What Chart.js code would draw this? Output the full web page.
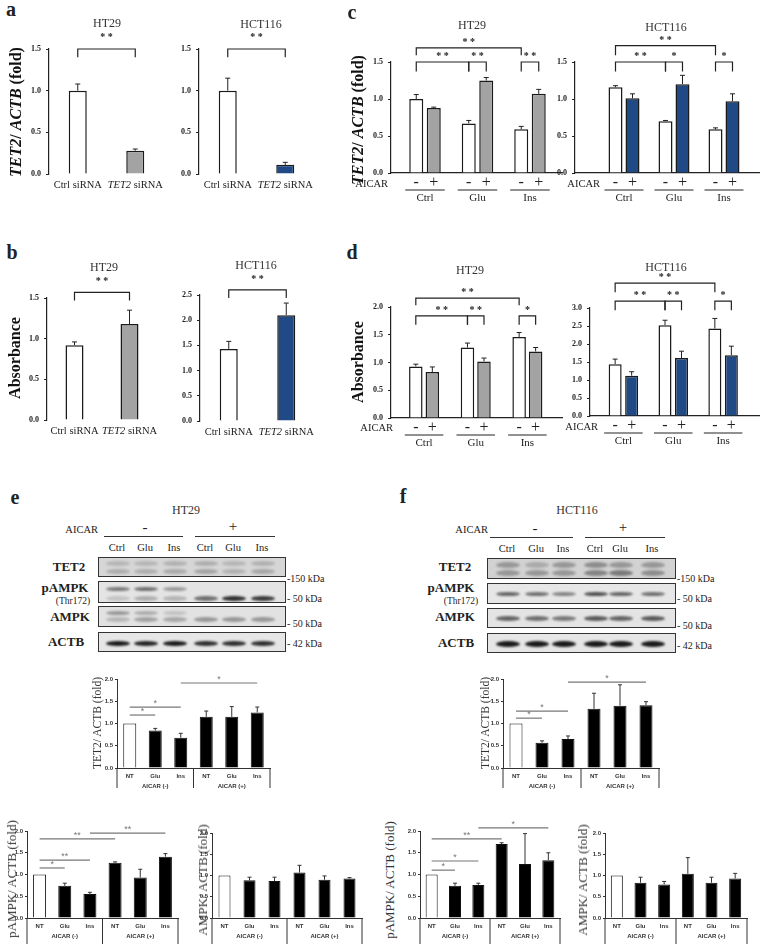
<!DOCTYPE html>
<html>
<head>
<meta charset="utf-8">
<title>TET2 / AICAR figure</title>
<script src="https://cdn.jsdelivr.net/npm/chart.js"></script>
<style>
  body { margin: 0; background: #fff; }
  #fig { position: relative; width: 760px; height: 944px; overflow: hidden; color: #222;
         font-family: "Liberation Serif", "Times New Roman", serif; }
  .t { position: absolute; white-space: nowrap; line-height: 1; transform: translate(-50%, -50%); }
  .rot { transform: translate(-50%, -50%) rotate(-90deg); }
  .blot { position: absolute; border: 1px solid #333; overflow: hidden; box-sizing: border-box; }
  .band { position: absolute; border-radius: 50%; filter: blur(1.2px); }
</style>
</head>
<body>
<div id="fig"></div>
<script>
// ---- values ----
const sirnaLabels = ['Ctrl siRNA', 'TET2 siRNA'];
const treatLabels = ['Ctrl', 'Glu', 'Ins'];
const aicarSigns = ['-', '+'];
const laneLabels = ['NT', 'Glu', 'Ins', 'NT', 'Glu', 'Ins'];
const aicarGroups = ['AICAR (-)', 'AICAR (+)'];

// a: TET2/ACTB mRNA after siRNA
const aHT29 = [1.00, 0.28], aHT29Err = [0.08, 0.02];
const aHCT116 = [1.00, 0.11], aHCT116Err = [0.15, 0.03];
// b: absorbance after siRNA
const bHT29 = [0.92, 1.18], bHT29Err = [0.04, 0.17];
const bHCT116 = [1.43, 2.10], bHCT116Err = [0.15, 0.24];
// c: TET2/ACTB mRNA, AICAR - / +
const cHT29Minus = [1.00, 0.67, 0.59], cHT29MinusErr = [0.06, 0.04, 0.04];
const cHT29Plus = [0.88, 1.25, 1.07], cHT29PlusErr = [0.01, 0.04, 0.06];
const cHCT116Minus = [1.16, 0.70, 0.59], cHCT116MinusErr = [0.02, 0.01, 0.02];
const cHCT116Plus = [1.01, 1.20, 0.97], cHCT116PlusErr = [0.06, 0.12, 0.10];
// d: absorbance, AICAR - / +
const dHT29Minus = [0.93, 1.27, 1.46], dHT29MinusErr = [0.04, 0.08, 0.08];
const dHT29Plus = [0.83, 1.02, 1.20], dHT29PlusErr = [0.09, 0.06, 0.07];
const dHCT116Minus = [1.44, 2.52, 2.43], dHCT116MinusErr = [0.14, 0.14, 0.28];
const dHCT116Plus = [1.12, 1.61, 1.69], dHCT116PlusErr = [0.11, 0.19, 0.25];
// e / f: blot densitometry
const eTET2 = [1.00, 0.84, 0.68, 1.15, 1.15, 1.25], eTET2Err = [0, 0.05, 0.10, 0.13, 0.23, 0.12];
const fTET2 = [1.00, 0.57, 0.65, 1.33, 1.40, 1.41], fTET2Err = [0, 0.04, 0.07, 0.35, 0.47, 0.08];
const ePAMPK = [1.00, 0.74, 0.55, 1.27, 0.93, 1.41], ePAMPKErr = [0, 0.06, 0.04, 0.02, 0.19, 0.07];
const fPAMPK = [1.00, 0.74, 0.76, 1.70, 1.24, 1.33], fPAMPKErr = [0, 0.06, 0.04, 0.03, 0.70, 0.17];
const eAMPK = [1.00, 0.89, 0.87, 1.07, 0.90, 0.93], eAMPKErr = [0, 0.07, 0.09, 0.17, 0.09, 0.02];
const fAMPK = [1.00, 0.83, 0.79, 1.04, 0.83, 0.93], fAMPKErr = [0, 0.13, 0.07, 0.38, 0.13, 0.12];

// significance brackets: [dataset, bar] -> [dataset, bar] at value y
const aBr = [{ a: [0, 0], b: [0, 1], y: 1.5, drop: 0.1, text: '* *' }];
const bHT29Br = [{ a: [0, 0], b: [0, 1], y: 1.57, drop: 0.1, text: '* *' }];
const bHCT116Br = [{ a: [0, 0], b: [0, 1], y: 2.6, drop: 0.16, text: '* *' }];
const cHT29Br = [
  { a: [0, 0], b: [0, 2], y: 1.69, drop: 0.1, text: '* *' },
  { a: [0, 0], b: [0, 1], y: 1.5, drop: 0.13, text: '* *' },
  { a: [0, 1], b: [1, 1], y: 1.5, drop: 0.13, text: '* *' },
  { a: [0, 2], b: [1, 2], y: 1.5, drop: 0.13, text: '* *' }];
const cHCT116Br = [
  { a: [0, 0], b: [0, 2], y: 1.72, drop: 0.13, text: '* *' },
  { a: [0, 0], b: [0, 1], y: 1.5, drop: 0.13, text: '* *' },
  { a: [0, 1], b: [1, 1], y: 1.5, drop: 0.13, text: '*' },
  { a: [0, 2], b: [1, 2], y: 1.5, drop: 0.13, text: '*' }];
const dHT29Br = [
  { a: [0, 0], b: [0, 2], y: 2.16, drop: 0.13, text: '* *' },
  { a: [0, 0], b: [0, 1], y: 1.84, drop: 0.16, text: '* *' },
  { a: [0, 1], b: [1, 1], y: 1.84, drop: 0.16, text: '* *' },
  { a: [0, 2], b: [1, 2], y: 1.84, drop: 0.16, text: '*' }];
const dHCT116Br = [
  { a: [0, 0], b: [0, 2], y: 3.69, drop: 0.25, text: '* *' },
  { a: [0, 0], b: [0, 1], y: 3.19, drop: 0.25, text: '* *' },
  { a: [0, 1], b: [1, 1], y: 3.19, drop: 0.25, text: '* *' },
  { a: [0, 2], b: [1, 2], y: 3.19, drop: 0.25, text: '*' }];
const eTET2Sig = [{ a: [0, 0], b: [0, 1], y: 1.19, text: '*' }, { a: [0, 0], b: [0, 2], y: 1.37, text: '*' }, { a: [0, 2], b: [0, 5], y: 1.91, text: '*' }];
const fTET2Sig = [{ a: [0, 0], b: [0, 1], y: 1.12, text: '*' }, { a: [0, 0], b: [0, 2], y: 1.28, text: '*' }, { a: [0, 2], b: [0, 5], y: 1.93, text: '*' }];
const ePAMPKSig = [{ a: [0, 0], b: [0, 1], y: 1.15, text: '*' }, { a: [0, 0], b: [0, 2], y: 1.33, text: '**' }, { a: [0, 0], b: [0, 3], y: 1.82, text: '**' }, { a: [0, 2], b: [0, 5], y: 1.95, text: '**' }];
const fPAMPKSig = [{ a: [0, 0], b: [0, 1], y: 1.10, text: '*' }, { a: [0, 0], b: [0, 2], y: 1.31, text: '*' }, { a: [0, 0], b: [0, 3], y: 1.82, text: '**' }, { a: [0, 2], b: [0, 5], y: 2.07, text: '*' }];

// blot band intensities per lane
const eBlotBands = [
  { y: 562, h: 5, v: [0.16, 0.16, 0.18, 0.2, 0.16, 0.18] }, { y: 570, h: 5, v: [0.2, 0.2, 0.22, 0.25, 0.18, 0.24] },
  { y: 588, h: 4, v: [0.5, 0.55, 0.35, 0, 0, 0] }, { y: 597, h: 5, v: [0.15, 0.25, 0.22, 0.55, 0.85, 0.8] },
  { y: 612, h: 4, v: [0.35, 0.25, 0.15, 0, 0, 0] }, { y: 618, h: 5, v: [0.2, 0.3, 0.28, 0.35, 0.35, 0.35] },
  { y: 642, h: 5, v: [0.95, 0.9, 0.95, 0.85, 0.85, 0.85] }];
const fBlotBands = [
  { y: 564, h: 6, v: [0.3, 0.2, 0.3, 0.35, 0.3, 0.3] }, { y: 572, h: 6, v: [0.3, 0.3, 0.3, 0.4, 0.45, 0.35] },
  { y: 593, h: 4, v: [0.6, 0.55, 0.45, 0.7, 0.6, 0.55] },
  { y: 617, h: 5, v: [0.6, 0.55, 0.5, 0.65, 0.6, 0.65] },
  { y: 643, h: 6, v: [0.95, 0.95, 0.95, 0.95, 0.95, 0.95] }];

// ---- drawing ----
const SERIF = '"Liberation Serif", "Times New Roman", serif';
const SANS = '"Liberation Sans", Arial, sans-serif';
const GREY = '#a3a3a3', BLUE = '#1f4a86';
const fig = document.getElementById('fig');

function seg(ctx, x1, y1, x2, y2) { ctx.beginPath(); ctx.moveTo(x1, y1); ctx.lineTo(x2, y2); ctx.stroke(); }

function txt(x, y, html, css, cls) {
  const d = document.createElement('div');
  d.className = 't' + (cls ? ' ' + cls : '');
  d.style.cssText = 'left:' + x + 'px;top:' + y + 'px;' + (css || '');
  d.innerHTML = html;
  fig.appendChild(d);
}

function place(area, pad) {
  const c = document.createElement('canvas');
  const w = area.r - area.l + pad.l + pad.r, h = area.b - area.t + pad.t + pad.b;
  c.width = w; c.height = h;
  c.style.cssText = 'position:absolute;left:' + (area.l - pad.l) + 'px;top:' + (area.t - pad.t) + 'px;width:' + w + 'px;height:' + h + 'px';
  fig.appendChild(c);
  return c;
}

// error bars, brackets and per-panel labels
function extras(o) {
  return {
    id: 'extras',
    afterDatasetsDraw(chart) {
      const ctx = chart.ctx, ys = chart.scales.y;
      const px = (ds, i) => chart.getDatasetMeta(ds).data[i].x;
      ctx.save();
      ctx.strokeStyle = o.axis; ctx.lineWidth = 1;
      o.series.forEach((s, ds) => {
        chart.getDatasetMeta(ds).data.forEach((bar, i) => {
          if (!s.errors[i]) return;
          const top = ys.getPixelForValue(s.values[i] + s.errors[i]);
          seg(ctx, bar.x, bar.y, bar.x, top);
          seg(ctx, bar.x - o.cap, top, bar.x + o.cap, top);
        });
      });
      ctx.strokeStyle = o.sigColor; ctx.fillStyle = o.sigColor; ctx.lineWidth = o.sigWidth;
      ctx.font = o.starFont; ctx.textAlign = 'center'; ctx.textBaseline = 'alphabetic';
      (o.brackets || []).forEach(b => {
        const x1 = px(b.a[0], b.a[1]), x2 = px(b.b[0], b.b[1]);
        const y = ys.getPixelForValue(b.y), y0 = ys.getPixelForValue(b.y - (b.drop || 0));
        ctx.beginPath(); ctx.moveTo(x1, y0); ctx.lineTo(x1, y); ctx.lineTo(x2, y); ctx.lineTo(x2, y0); ctx.stroke();
        ctx.fillText(b.text, (x1 + x2) / 2, y - o.starGap);
      });
      if (o.decorate) o.decorate(chart, ctx, o);
      ctx.restore();
    }
  };
}

function baseOptions(o, x) {
  return {
    responsive: false, animation: false, events: [],
    layout: { autoPadding: false, padding: { top: o.pad.t, right: o.pad.r, left: 0, bottom: 0 } },
    plugins: { legend: { display: false }, tooltip: { enabled: false } },
    scales: {
      x: Object.assign({
        grid: { display: false }, ticks: { display: false },
        border: { display: o.baseline, color: o.axis, width: o.aw },
        afterFit: s => { s.height = o.pad.b; }
      }, x),
      y: {
        min: 0, max: o.yMax,
        afterFit: s => { s.width = o.pad.l; },
        ticks: { stepSize: o.step, callback: v => v.toFixed(1), font: o.tickFont, color: o.tickColor, padding: o.tickPad },
        grid: { drawOnChartArea: false, drawTicks: true, tickLength: o.tickLen, color: o.axis, lineWidth: 1 },
        border: { color: o.axis, width: o.aw }
      }
    }
  };
}

function simpleChart(o) {
  const cv = place(o.area, o.pad);
  const catW = (o.area.r - o.area.l) / o.labels.length;
  return new Chart(cv, {
    type: 'bar',
    data: {
      labels: o.labels,
      datasets: [{ data: o.series[0].values, backgroundColor: o.colors, borderColor: o.edge, borderWidth: o.bw,
                   categoryPercentage: 1, barPercentage: o.barW / catW }]
    },
    options: baseOptions(o, { type: 'category' }),
    plugins: [extras(o)]
  });
}

function groupChart(o) {
  const cv = place(o.area, o.pad);
  const unit = (o.area.r - o.area.l) / (o.xMax - o.xMin);
  return new Chart(cv, {
    type: 'bar',
    data: {
      datasets: o.series.map(s => ({
        data: s.values.map((v, i) => ({ x: i, y: v })),
        backgroundColor: s.color, borderColor: o.edge, borderWidth: o.bw,
        categoryPercentage: 2 * o.pitch / unit, barPercentage: o.barW / o.pitch
      }))
    },
    options: baseOptions(o, {
      type: 'linear', min: o.xMin, max: o.xMax, offset: false,
      afterBuildTicks: s => { s.ticks = treatLabels.map((g, i) => ({ value: i })); }
    }),
    plugins: [extras(o)]
  });
}

function siRNARow(chart, ctx) {
  const y = chart.chartArea.bottom + 11;
  ctx.fillStyle = '#222'; ctx.textBaseline = 'middle'; ctx.textAlign = 'left';
  chart.getDatasetMeta(0).data.forEach((bar, i) => {
    const words = sirnaLabels[i].split(' ');
    const parts = [[words[0], (words[0] === 'TET2' ? 'italic ' : '') + '10.5px ' + SERIF], [' ' + words.slice(1).join(' '), '10.5px ' + SERIF]];
    let w = 0;
    parts.forEach(p => { ctx.font = p[1]; w += ctx.measureText(p[0]).width; });
    let x = bar.x - w / 2;
    parts.forEach(p => { ctx.font = p[1]; ctx.fillText(p[0], x, y); x += ctx.measureText(p[0]).width; });
  });
}

function aicarRow(chart, ctx) {
  const b = chart.chartArea.bottom;
  ctx.fillStyle = '#222'; ctx.strokeStyle = '#222'; ctx.lineWidth = 1;
  ctx.textAlign = 'center'; ctx.textBaseline = 'middle';
  ctx.font = '16px ' + SERIF;
  chart.data.datasets.forEach((d, ds) => chart.getDatasetMeta(ds).data.forEach(bar => ctx.fillText(aicarSigns[ds], bar.x, b + 10)));
  ctx.font = '11px ' + SERIF;
  treatLabels.forEach((g, i) => {
    const x1 = chart.getDatasetMeta(0).data[i].x - 11, x2 = chart.getDatasetMeta(1).data[i].x + 11;
    seg(ctx, x1, b + 17, x2, b + 17);
    ctx.fillText(g, (x1 + x2) / 2, b + 25);
  });
}

function laneRow(chart, ctx, o) {
  const ca = chart.chartArea, b = ca.bottom, mid = (ca.left + ca.right) / 2;
  ctx.strokeStyle = o.axis; ctx.lineWidth = 1; ctx.fillStyle = '#333';
  [ca.left, mid, ca.right].forEach(x => seg(ctx, x, b, x, b + o.divLen));
  ctx.font = 'bold 6px ' + SANS; ctx.textAlign = 'center'; ctx.textBaseline = 'middle';
  chart.getDatasetMeta(0).data.forEach((bar, i) => ctx.fillText(laneLabels[i], bar.x, b + 8));
  ctx.fillText(aicarGroups[0], (ca.left + mid) / 2, b + 18);
  ctx.fillText(aicarGroups[1], (mid + ca.right) / 2, b + 18);
}

const topStyle = { axis: '#222', aw: 1.2, tickFont: { family: SERIF, size: 8, weight: 'bold' }, tickColor: '#222',
  tickLen: 3, tickPad: 5, cap: 2.5, bw: 1.5, edge: '#1a1a1a', starFont: 'bold 10px ' + SERIF, sigColor: '#222', sigWidth: 1.2, yMax: 1.5, step: 0.5 };
const blotStyle = { axis: '#333', aw: 1, tickFont: { family: SANS, size: 6, weight: 'bold' }, tickColor: '#333',
  tickLen: 2, tickPad: 2, cap: 2, bw: 1, edge: '#111', starFont: '9px ' + SANS, sigColor: '#777', sigWidth: 1.2, starGap: 1,
  yMax: 2.0, step: 0.5, baseline: true, labels: laneLabels, colors: ['#fff', '#000', '#000', '#000', '#000', '#000'], barW: 12, decorate: laneRow };

// a
simpleChart(Object.assign({}, topStyle, { area: { l: 49, r: 164, t: 49, b: 174 }, pad: { t: 26, r: 14, b: 20, l: 30 },
  labels: sirnaLabels, series: [{ values: aHT29, errors: aHT29Err }], colors: ['#fff', GREY], barW: 18,
  baseline: false, brackets: aBr, starGap: 9, decorate: siRNARow }));
simpleChart(Object.assign({}, topStyle, { area: { l: 199, r: 314, t: 49, b: 174 }, pad: { t: 26, r: 14, b: 20, l: 30 },
  labels: sirnaLabels, series: [{ values: aHCT116, errors: aHCT116Err }], colors: ['#fff', BLUE], barW: 18,
  baseline: false, brackets: aBr, starGap: 9, decorate: siRNARow }));
// b
simpleChart(Object.assign({}, topStyle, { area: { l: 47, r: 157, t: 298, b: 420 }, pad: { t: 26, r: 14, b: 20, l: 30 },
  labels: sirnaLabels, series: [{ values: bHT29, errors: bHT29Err }], colors: ['#fff', GREY], barW: 18,
  baseline: false, brackets: bHT29Br, starGap: 8, decorate: siRNARow }));
simpleChart(Object.assign({}, topStyle, { area: { l: 200, r: 315, t: 295, b: 421 }, pad: { t: 26, r: 14, b: 20, l: 30 },
  labels: sirnaLabels, series: [{ values: bHCT116, errors: bHCT116Err }], colors: ['#fff', BLUE], barW: 18, yMax: 2.5,
  baseline: false, brackets: bHCT116Br, starGap: 8, decorate: siRNARow }));
// c
groupChart(Object.assign({}, topStyle, { area: { l: 391, r: 562, t: 62, b: 173 }, pad: { t: 30, r: 6, b: 32, l: 28 },
  xMin: -0.648, xMax: 2.61, pitch: 17.5, barW: 14, baseline: true, starGap: 3, decorate: aicarRow, brackets: cHT29Br,
  series: [{ values: cHT29Minus, errors: cHT29MinusErr, color: '#fff' }, { values: cHT29Plus, errors: cHT29PlusErr, color: GREY }] }));
groupChart(Object.assign({}, topStyle, { area: { l: 575, r: 760, t: 62, b: 173 }, pad: { t: 30, r: 0, b: 32, l: 28 },
  xMin: -0.98, xMax: 2.72, pitch: 17, barW: 14, baseline: true, starGap: 3, decorate: aicarRow, brackets: cHCT116Br,
  series: [{ values: cHCT116Minus, errors: cHCT116MinusErr, color: '#fff' }, { values: cHCT116Plus, errors: cHCT116PlusErr, color: BLUE }] }));
// d
groupChart(Object.assign({}, topStyle, { area: { l: 391, r: 562, t: 307, b: 418 }, pad: { t: 24, r: 6, b: 32, l: 28 },
  xMin: -0.64, xMax: 2.67, pitch: 16.5, barW: 13.5, yMax: 2.0, baseline: true, starGap: 3, decorate: aicarRow, brackets: dHT29Br,
  series: [{ values: dHT29Minus, errors: dHT29MinusErr, color: '#fff' }, { values: dHT29Plus, errors: dHT29PlusErr, color: GREY }] }));
groupChart(Object.assign({}, topStyle, { area: { l: 590, r: 760, t: 308, b: 416 }, pad: { t: 38, r: 0, b: 32, l: 28 },
  xMin: -0.67, xMax: 2.74, pitch: 16.5, barW: 13, yMax: 3.0, baseline: true, starGap: 3, decorate: aicarRow, brackets: dHCT116Br,
  series: [{ values: dHCT116Minus, errors: dHCT116MinusErr, color: '#fff' }, { values: dHCT116Plus, errors: dHCT116PlusErr, color: BLUE }] }));
// e / f densitometry
simpleChart(Object.assign({}, blotStyle, { area: { l: 117, r: 270, t: 679, b: 768 }, pad: { t: 14, r: 6, b: 22, l: 18 }, divLen: 20,
  series: [{ values: eTET2, errors: eTET2Err }], brackets: eTET2Sig, barW: 13 }));
simpleChart(Object.assign({}, blotStyle, { area: { l: 503, r: 659, t: 679, b: 768 }, pad: { t: 14, r: 6, b: 22, l: 18 }, divLen: 20,
  series: [{ values: fTET2, errors: fTET2Err }], brackets: fTET2Sig, barW: 13 }));
simpleChart(Object.assign({}, blotStyle, { area: { l: 27, r: 178, t: 831, b: 918 }, pad: { t: 14, r: 6, b: 26, l: 18 }, divLen: 26,
  series: [{ values: ePAMPK, errors: ePAMPKErr }], brackets: ePAMPKSig, barW: 13 }));
simpleChart(Object.assign({}, blotStyle, { area: { l: 212, r: 362, t: 833, b: 918 }, pad: { t: 14, r: 6, b: 26, l: 18 }, divLen: 26,
  series: [{ values: eAMPK, errors: eAMPKErr }], barW: 12 }));
simpleChart(Object.assign({}, blotStyle, { area: { l: 420, r: 560, t: 831, b: 918 }, pad: { t: 16, r: 6, b: 26, l: 18 }, divLen: 26,
  series: [{ values: fPAMPK, errors: fPAMPKErr }], brackets: fPAMPKSig, barW: 12 }));
simpleChart(Object.assign({}, blotStyle, { area: { l: 605, r: 747, t: 833, b: 918 }, pad: { t: 14, r: 6, b: 26, l: 18 }, divLen: 26,
  series: [{ values: fAMPK, errors: fAMPKErr }], barW: 12 }));

// ---- western blot images (schematic) ----
function blot(box, lanes, bands, bg) {
  const d = document.createElement('div');
  d.className = 'blot';
  d.style.cssText = 'left:' + box[0] + 'px;top:' + box[1] + 'px;width:' + (box[2] - box[0]) + 'px;height:' + (box[3] - box[1]) + 'px;background:' + bg;
  bands.forEach(b => {
    if (b.y < box[1] || b.y > box[3]) return;
    lanes.forEach((lx, i) => {
      if (!b.v[i]) return;
      const s = document.createElement('div');
      s.className = 'band';
      s.style.cssText = 'left:' + (lx - box[0] - 12) + 'px;top:' + (b.y - box[1] - b.h / 2) + 'px;width:24px;height:' + b.h + 'px;background:rgba(15,15,15,' + b.v[i] + ')';
      d.appendChild(s);
    });
  });
  fig.appendChild(d);
}
const eLanes = [117, 145, 174, 205, 233, 262], fLanes = [507, 536, 563, 595, 620, 652];
[[557, 577, '#d6d6d6'], [581, 603, '#e4e4e4'], [606, 627, '#e2e2e2'], [632, 652, '#e6e6e6']]
  .forEach(r => blot([98, r[0], 286, r[1]], eLanes, eBlotBands, r[2]));
[[558, 579, '#d2d2d2'], [583, 604, '#e6e6e6'], [608, 628, '#e4e4e4'], [633, 653, '#e6e6e6']]
  .forEach(r => blot([487, r[0], 676, r[1]], fLanes, fBlotBands, r[2]));

// ---- text ----
const L = 'font:bold 20px ' + SERIF;
txt(11, 9, 'a', L); txt(12, 252, 'b', L); txt(352, 12, 'c', L); txt(352, 252, 'd', L); txt(15, 497, 'e', L); txt(403, 496, 'f', L);

const T12 = 'font:12px ' + SERIF + ';color:#333';
txt(107, 23, 'HT29', T12); txt(261, 24, 'HCT116', T12);
txt(104, 267, 'HT29', T12); txt(256, 265, 'HCT116', T12);
txt(472, 25, 'HT29', T12); txt(666, 27, 'HCT116', T12);
txt(470, 270, 'HT29', T12); txt(666, 267, 'HCT116', T12);
txt(186, 510, 'HT29', T12); txt(577, 510, 'HCT116', T12);

const YT = 'font:bold 16px ' + SERIF + ';color:#111';
txt(16, 112, '<i>TET2</i>/ <i>ACTB</i> (fold)', YT, 'rot');
txt(358, 120, '<i>TET2</i>/ <i>ACTB</i> (fold)', YT, 'rot');
txt(15, 358, 'Absorbance', YT, 'rot');
txt(358, 362, 'Absorbance', YT, 'rot');

const AI = 'font:10.5px ' + SERIF + ';transform:translate(-100%,-50%)';
txt(388, 183, 'AICAR', AI); txt(600, 183, 'AICAR', AI);
txt(393, 427, 'AICAR', AI); txt(598, 426, 'AICAR', AI);
txt(98, 529, 'AICAR', AI); txt(488, 529, 'AICAR', AI);

// blot header
const SG = 'font:15px ' + SERIF;
txt(145, 527, aicarSigns[0], SG); txt(233, 526, aicarSigns[1], SG);
txt(535, 528, aicarSigns[0], SG); txt(623, 527, aicarSigns[1], SG);
const HL = 'height:0;border-top:1px solid #333;transform:none;';
txt(104, 536, '', HL + 'width:79px'); txt(195, 536, '', HL + 'width:80px');
txt(490, 537, '', HL + 'width:83px'); txt(585, 537, '', HL + 'width:80px');
const LN = 'font:10.5px ' + SERIF;
eLanes.forEach((x, i) => txt(x, 547, treatLabels[i % 3], LN));
fLanes.forEach((x, i) => txt(x, 548, treatLabels[i % 3], LN));

const BL = 'font:bold 13px ' + SERIF;
txt(69, 567, 'TET2', BL); txt(65, 588, 'pAMPK', BL); txt(73, 601, '(Thr172)', 'font:9.5px ' + SERIF); txt(70, 617, 'AMPK', BL); txt(66, 642, 'ACTB', BL);
txt(455, 567, 'TET2', BL); txt(451, 588, 'pAMPK', BL); txt(461, 601, '(Thr172)', 'font:9.5px ' + SERIF); txt(455, 617, 'AMPK', BL); txt(456, 643, 'ACTB', BL);
const KD = 'font:10px ' + SERIF + ';transform:translate(0,-50%)';
txt(287, 578, '-150 kDa', KD); txt(287, 598, '- 50 kDa', KD); txt(287, 623, '- 50 kDa', KD); txt(287, 643, '- 42 kDa', KD);
txt(677, 578, '-150 kDa', KD); txt(677, 598, '- 50 kDa', KD); txt(677, 625, '- 50 kDa', KD); txt(677, 645, '- 42 kDa', KD);

const YS = 'font:11.5px ' + SERIF + ';color:#333';
const YB = 'font:13px ' + SERIF + ';color:#333';
txt(97, 723, 'TET2/ ACTB (fold)', YS, 'rot'); txt(485, 723, 'TET2/ ACTB (fold)', YS, 'rot');
txt(12, 879, 'pAMPK/ ACTB (fold)', YB, 'rot'); txt(203, 880, 'AMPK/ ACTB (fold)', YB, 'rot');
txt(390, 880, 'pAMPK/ ACTB (fold)', YB, 'rot'); txt(583, 880, 'AMPK/ ACTB (fold)', YB, 'rot');
</script>
</body>
</html>
